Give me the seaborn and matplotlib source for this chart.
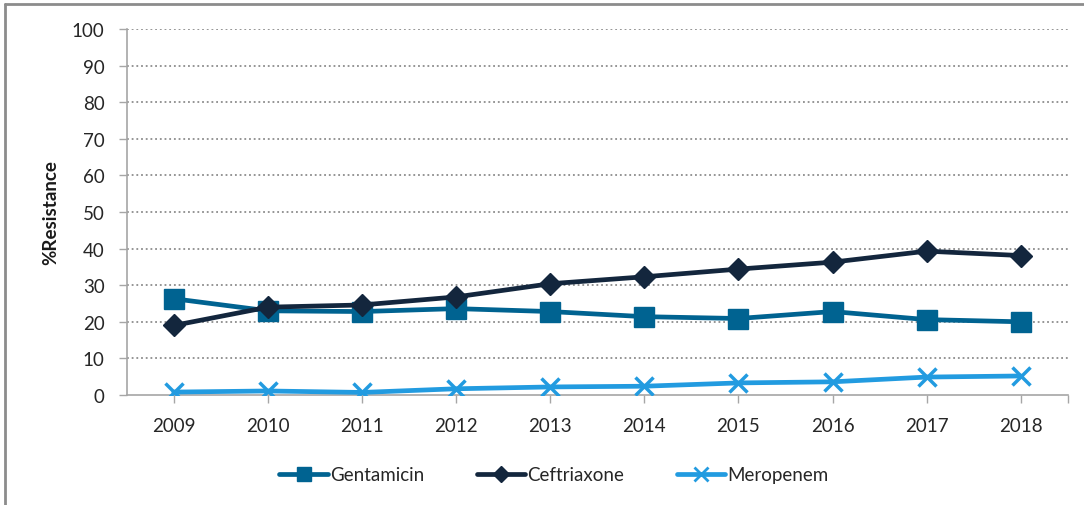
import matplotlib
matplotlib.use("Agg")
import matplotlib.pyplot as plt
from matplotlib.lines import Line2D
import seaborn as sns
import pandas as pd

years = [2009, 2010, 2011, 2012, 2013, 2014, 2015, 2016, 2017, 2018]
gentamicin = [26.3, 23.0, 22.8, 23.6, 22.8, 21.4, 20.9, 22.8, 20.6, 20.0]
ceftriaxone = [19.0, 24.0, 24.6, 26.8, 30.4, 32.3, 34.4, 36.3, 39.3, 38.1]
meropenem = [0.8, 1.1, 0.7, 1.7, 2.2, 2.4, 3.3, 3.6, 4.9, 5.2]
series_names = ["Gentamicin", "Ceftriaxone", "Meropenem"]
y_ticks = [0, 10, 20, 30, 40, 50, 60, 70, 80, 90, 100]

colors = {"Gentamicin": "#006391", "Ceftriaxone": "#13263d", "Meropenem": "#229be0"}
markers = {"Gentamicin": "s", "Ceftriaxone": "D", "Meropenem": "x"}
msizes = {"Gentamicin": 14, "Ceftriaxone": 11, "Meropenem": 13}

sns.set_theme(style="white")
plt.rcParams["font.family"] = ["Lato", "DejaVu Sans"]

df = pd.DataFrame({
    "pos": list(range(len(years))) * 3,
    "value": gentamicin + ceftriaxone + meropenem,
    "series": [s for s in series_names for _ in years],
})

fig = plt.figure(figsize=(10.84, 5.06), dpi=100)
ax = fig.add_axes([0.117, 0.2174, 0.868, 0.7233])

for name in series_names:
    sub = df[df["series"] == name]
    sns.lineplot(data=sub, x="pos", y="value", ax=ax, color=colors[name],
                 linewidth=3.4, marker=markers[name], markersize=msizes[name],
                 markeredgecolor=colors[name], markeredgewidth=2.5 if name == "Meropenem" else 1,
                 legend=False, zorder=3)

ax.set_xlim(-0.5, len(years) - 0.5)
ax.set_ylim(0, 100)
ax.set_yticks(y_ticks)
ax.set_yticklabels([str(v) for v in y_ticks], fontsize=13.5, color="#262626")
ax.set_xticks(range(len(years)))
ax.set_xticklabels([str(y) for y in years], fontsize=13.5, color="#262626")
ax.set_xticks([len(years) - 0.5], minor=True)
ax.set_xlabel("")
ax.set_ylabel("%Resistance", fontsize=13.5, fontweight="bold", color="#1a1a1a", labelpad=9)

for v in y_ticks[1:]:
    ax.axhline(v, color="#8c8c8c", linestyle=(0, (1, 1.6)), linewidth=1.3, zorder=1)

for side in ["top", "right"]:
    ax.spines[side].set_visible(False)
for side in ["left", "bottom"]:
    ax.spines[side].set_color("#a6a6a6")
    ax.spines[side].set_linewidth(1.2)

ax.tick_params(axis="y", which="both", direction="out", length=6, width=1, color="#a6a6a6", left=True, pad=10)
ax.tick_params(axis="x", which="both", direction="out", length=6, width=1, color="#a6a6a6", bottom=True, pad=10)

handles = [Line2D([0], [0], color=colors[n], lw=3.4, marker=markers[n],
                  markersize=msizes[n] * 0.75, markeredgewidth=2 if n == "Meropenem" else 1,
                  markeredgecolor=colors[n])
           for n in series_names]
fig.legend(handles, series_names, loc="center", bbox_to_anchor=(0.511, 0.06), ncol=3,
           frameon=False, fontsize=13.5, handlelength=2.6, handletextpad=0.1,
           columnspacing=2.8)

# thin frame along the top and left edge of the figure
fig.add_artist(Line2D([0.005, 1.0], [0.99, 0.99], transform=fig.transFigure, color="#8c8c8c", lw=2))
fig.add_artist(Line2D([0.005, 0.005], [0.0, 0.99], transform=fig.transFigure, color="#8c8c8c", lw=2))

fig.savefig("out.png", dpi=100)
